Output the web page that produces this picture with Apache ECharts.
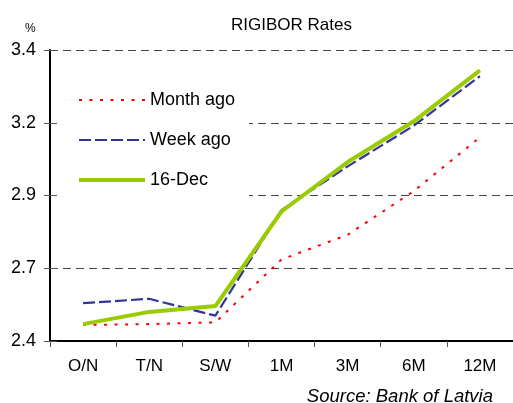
<!DOCTYPE html>
<html><head><meta charset="utf-8">
<script src="https://cdn.jsdelivr.net/npm/echarts@6/dist/echarts.min.js"></script>
<style>html,body{margin:0;padding:0;background:#fff}#c{width:513px;height:403px}</style>
</head><body><div id="c"></div>
<script>
const categories = ['O/N','T/N','S/W','1M','3M','6M','12M'];
const monthAgo = [2.455, 2.458, 2.464, 2.68, 2.765, 2.915, 3.10];
const weekAgo = [2.53, 2.545, 2.487, 2.85, 3.00, 3.14, 3.31];
const dec16 = [2.458, 2.50, 2.52, 2.845, 3.015, 3.155, 3.33];
const yTickLabels = ['2.4','2.7','2.9','3.2','3.4'];
const yMin = 2.4, yMax = 3.4, yStep = 0.25;

const font = 'Liberation Sans, Arial, sans-serif';
const chart = echarts.init(document.getElementById('c'), null, {renderer:'canvas'});
function yLabel(v){ const i = Math.round((v - yMin)/yStep); return yTickLabels[i] ?? ''; }
chart.setOption({
  animation:false,
  backgroundColor:'#fff',
  title:{text:'RIGIBOR Rates', left:226, top:12, textStyle:{fontFamily:font, fontSize:17, fontWeight:'normal', color:'#000'}},
  graphic:[
    {type:'text', left:25, top:23, style:{text:'%', font:'12px '+font, fill:'#000'}},
    {type:'text', right:20, top:387, style:{text:'Source: Bank of Latvia', font:'italic 18.5px '+font, fill:'#000'}}
  ],
  legend:{
    orient:'vertical', left:57, top:75, padding:[16,14,20,20],
    backgroundColor:'#fff', itemWidth:66, itemHeight:14, itemGap:22,
    itemStyle:{opacity:0},
    lineStyle:{width:'inherit'},
    textStyle:{fontFamily:font, fontSize:18, color:'#000', padding:[0,0,0,0]},
    data:['Month ago','Week ago','16-Dec']
  },
  grid:{left:50, right:-2, top:50, bottom:62},
  xAxis:{type:'category', data:categories, boundaryGap:true,
    axisLine:{lineStyle:{color:'#000', width:2}},
    axisTick:{show:true, length:6, lineStyle:{color:'#555'}},
    axisLabel:{fontFamily:font, fontSize:17, color:'#000', margin:17},
    splitLine:{show:false}},
  yAxis:[{type:'value', min:yMin, max:yMax, interval:yStep,
    axisLine:{show:true, lineStyle:{color:'#000', width:2}},
    axisTick:{show:true, length:6, lineStyle:{color:'#555'}},
    axisLabel:{fontFamily:font, fontSize:18, color:'#000', margin:14, formatter:yLabel},
    splitLine:{show:true, lineStyle:{color:'#444', type:[8,5], width:1}}},
   {type:'value', position:'left', min:yMin, max:yMax, interval:yStep,
    axisLine:{show:false}, axisLabel:{show:false}, splitLine:{show:false},
    axisTick:{show:true, inside:true, length:7, lineStyle:{color:'#555'}}}],
  series:[
    {name:'Month ago', type:'line', data:monthAgo, symbol:'none', z:2,
      lineStyle:{color:'#ff0000', width:2, type:[3,7.5]}, itemStyle:{color:'#ff0000'}},
    {name:'Week ago', type:'line', data:weekAgo, symbol:'none', z:3,
      lineStyle:{color:'#333399', width:2.2, type:[12,4]}, itemStyle:{color:'#333399'}},
    {name:'16-Dec', type:'line', data:dec16, symbol:'none', z:4,
      lineStyle:{color:'#99cc00', width:4}, itemStyle:{color:'#99cc00'}}
  ]
});
</script></body></html>
